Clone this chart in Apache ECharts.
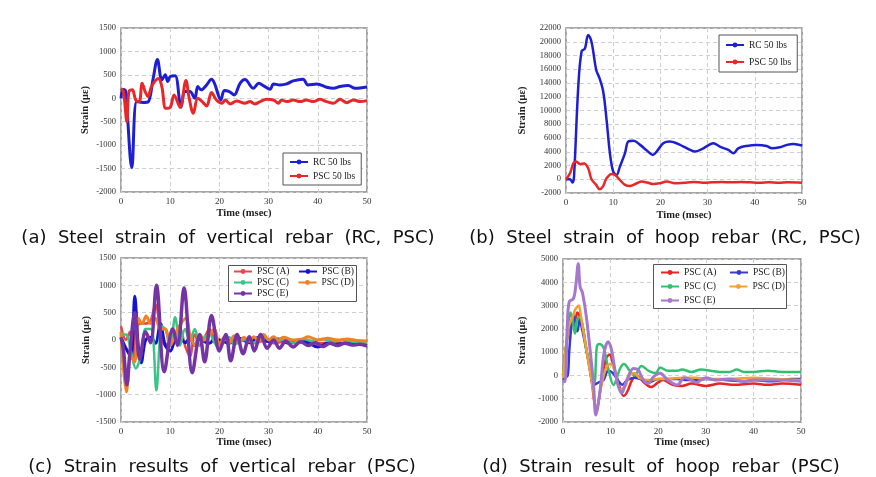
<!DOCTYPE html>
<html><head><meta charset="utf-8">
<script src="https://cdn.jsdelivr.net/npm/echarts@6/dist/echarts.min.js"></script>
<style>html,body{margin:0;padding:0;background:#fff}#c{width:876px;height:477px}</style>
</head><body><div id="c"></div>
<script>
// ---- data (time msec, strain) ----
const aRC = [[0,0],[0.4,190],[0.9,160],[2.2,-1480],[3.2,-70],[4.5,-90],[5.5,-80],[6.5,400],[7.4,830],[8.3,390],[9,500],[9.5,357],[10,464],[11,480],[12.2,-190],[13,143],[14,143],[15,0],[15.6,250],[16.3,180],[17.4,285],[18.4,407],[19,320],[20.3,-35],[21,164],[22,143],[23,70],[24.2,320],[25.2,400],[26.9,214],[28,320],[29,264],[30.3,193],[31,307],[32.3,286],[33.7,307],[35,371],[37,407],[38,286],[39.8,307],[41.8,236],[43.2,214],[44.5,250],[46.2,271],[47.6,214],[50,240]];
const aPSC = [[0,214],[0.5,143],[1.2,-500],[1.6,143],[2.3,180],[3,-36],[3.7,-70],[4.3,320],[4.9,143],[5.5,36],[6.2,250],[7.6,420],[8.3,250],[9.1,-214],[10,-193],[10.8,70],[12,-193],[13.2,380],[13.8,36],[14.7,-320],[15.6,0],[16.5,-70],[17.4,-164],[18.4,121],[19.4,-36],[20.5,-107],[21.2,-36],[22.2,-121],[23.5,-57],[25.2,-107],[26.2,-71],[27.2,-121],[28.3,-71],[29.6,-21],[31,-36],[32,-107],[32.6,-36],[33.7,-71],[35,-36],[36.4,-71],[37.7,-36],[39.1,-71],[40.4,-21],[41.8,-71],[43.2,-107],[44.5,-21],[45.9,-93],[47.2,-36],[48.6,-71],[50,-50]];
const bRC = [[0,0],[0.85,0],[1.4,-480],[1.7,400],[2.6,13500],[3.3,18600],[4,19000],[4.7,21000],[5.4,20000],[6.4,15900],[7.1,14700],[7.9,12700],[8.6,8600],[9.3,3800],[10,1100],[10.7,600],[11.4,1800],[12.5,3800],[13.2,5500],[14.3,5600],[15.7,5000],[17.1,4200],[18.4,3540],[19.2,4020],[20.6,5240],[22,5480],[23.4,5240],[24.9,4750],[26.3,4270],[27.3,4020],[29.1,4500],[31.2,5240],[32.6,4750],[34.4,4270],[35.5,3780],[36.5,4500],[38.3,4850],[40.4,5000],[42.5,4850],[43.6,4500],[45.3,4650],[46.8,5000],[48.2,5140],[50,4900]];
const bPSC = [[0,0],[0.85,870],[1.55,2300],[2.1,2570],[3,2230],[3.8,2300],[4.7,1600],[5.4,0],[6.4,-820],[7.1,-1450],[7.8,-1070],[8.6,150],[9.7,780],[10.4,630],[11.4,-100],[12.5,-820],[13.6,-970],[15,-580],[16,-340],[17.2,-480],[18.5,-700],[19.9,-580],[21.3,-340],[23.1,-580],[25,-500],[27,-400],[29,-500],[31,-450],[33,-400],[35,-450],[37,-400],[39,-450],[41,-500],[43,-450],[45,-500],[47,-450],[50,-500]];
const cA = [[0,250],[1,0],[1.8,150],[2.5,-400],[3,200],[4,300],[5,300],[6,350],[7,650],[8,200],[9,-100],[10,0],[11,100],[12,200],[13,-100],[14,-300],[15,100],[16,-100],[17,50],[18,200],[19,0],[20,-100],[21,50],[22,0],[23,-50],[25,0],[27,-60],[29,-20],[31,-60],[33,-30],[35,-60],[37,-40],[40,-60],[43,-40],[46,-60],[50,-50]];
const cB = [[0,50],[1,-150],[2,-300],[2.8,800],[3.5,-100],[4.1,-420],[5,0],[6,50],[7,-60],[8,300],[9,-100],[10,-200],[11,0],[12,50],[13,-50],[14,30],[15,-100],[16,50],[17,-30],[18,-60],[19,20],[20,0],[22,-60],[24,30],[26,-50],[28,50],[30,-30],[32,20],[34,-60],[36,0],[38,-50],[40,-130],[42,-60],[44,-80],[46,-50],[48,-70],[50,-80]];
const cC = [[0,100],[1,100],[2,-200],[3,-520],[4,-300],[5,200],[6,200],[6.5,100],[7.2,-920],[8.3,250],[9,200],[10,-100],[11,415],[12,-100],[13,200],[14,0],[15,200],[16,-100],[17,50],[18,100],[19,-50],[20,-150],[21,0],[22,50],[23,-80],[25,0],[27,-50],[29,50],[31,-30],[33,0],[35,-50],[37,20],[39,-20],[41,20],[43,-30],[45,0],[47,-30],[50,-50]];
const cD = [[0,150],[1.1,-950],[2,-300],[2.8,-400],[3.5,400],[4.3,300],[5.1,440],[6,300],[7,400],[8,200],[9,200],[10,-100],[11.5,200],[13.2,400],[14,100],[15,-100],[16,100],[17,0],[18,100],[19,200],[20,-100],[21,50],[22,-50],[23,80],[24,-50],[25,50],[26,-30],[27,60],[28,-20],[29,100],[30,0],[31,60],[32,0],[33,50],[35,0],[37,20],[38,60],[40,0],[42,30],[44,0],[46,20],[48,-10],[50,-20]];
const cE = [[0,50],[0.5,-180],[1.2,-820],[1.8,-240],[2.8,500],[3.8,-350],[5,150],[6,-50],[7.2,1000],[8.8,-580],[10.5,200],[11.5,-100],[12.8,950],[14.5,-600],[16,100],[17,-400],[18.4,450],[20,-200],[21.3,100],[22.3,-380],[23.6,100],[24.8,-250],[26.1,60],[27.1,-200],[28.4,100],[29.7,-150],[31,0],[32.2,-150],[33.5,-20],[35,-130],[36.5,-30],[38,-100],[39.5,-50],[41,-120],[42.5,-60],[44,-100],[45.5,-60],[47,-90],[48.5,-80],[50,-110]];
const dA = [[0,0],[0.8,1500],[1.5,2200],[2,2400],[2.5,2300],[3,2700],[4,2200],[5,1000],[6,-200],[7,-1500],[8,-400],[9,700],[9.8,900],[10.5,500],[11.5,-200],[12.7,-880],[13.5,-700],[14.5,-200],[15.5,0],[17,-300],[18.5,-500],[20,-300],[21,-200],[23,-400],[25,-450],[27,-350],[30,-450],[33,-350],[36,-400],[40,-350],[43,-400],[46,-350],[50,-400]];
const dB = [[0,-200],[0.5,-100],[1,0],[1.3,1000],[1.8,2200],[2.2,2600],[2.5,2000],[3,1900],[3.5,2400],[4,2000],[5.5,500],[6.5,-400],[7.5,-300],[8.5,-200],[9.5,200],[10.5,100],[11.5,-200],[12.5,-400],[13.5,-200],[15,-100],[17,-200],[18,-300],[20,-150],[22,-150],[24,-150],[26,-200],[28,-200],[30,-150],[34,-200],[38,-250],[40,-200],[44,-250],[48,-150],[50,-150]];
const dC = [[0,0],[0.8,1500],[1.6,2700],[2,2400],[2.5,1800],[3,2400],[3.5,2500],[5,1000],[6,0],[6.6,-300],[7.1,1230],[7.6,1350],[8.5,1200],[9.5,300],[10.6,-410],[12,300],[12.8,490],[14,200],[15,0],[16.5,400],[18,200],[19.5,100],[20.4,340],[22,200],[24,200],[25,250],[27,150],[29,250],[31,200],[33,150],[35,150],[36.5,250],[38,150],[40,150],[43,200],[46,150],[50,150]];
const dD = [[0,-100],[0.8,1500],[1.3,2150],[2,2500],[2.5,2800],[3,2950],[3.3,3000],[3.8,2500],[5,1000],[6,-200],[7.1,-1420],[8,-500],[9,300],[10,500],[11,100],[12,-600],[13,-500],[14,0],[15,100],[16,-100],[18,-200],[20,-150],[22,-150],[25,-100],[28,-100],[30,-150],[35,-150],[40,-100],[45,-150],[50,-200]];
const dE = [[0,-200],[0.4,-270],[0.9,2090],[1.3,3160],[2.2,3300],[2.7,3880],[3.2,4800],[3.6,3800],[4.1,3550],[5,2370],[6.4,-340],[6.9,-1700],[7.8,-630],[8.6,940],[9.5,1450],[10.2,1090],[11.3,-200],[12.3,-770],[13.4,-200],[14.8,300],[15.8,230],[16.9,-200],[17.9,-340],[19,-60],[20.4,90],[22,-200],[24,-410],[25.5,-100],[27,-200],[28,-300],[30,-100],[32,-200],[35,-150],[38,-250],[40,-200],[45,-200],[50,-250]];

const captions = ['(a) Steel strain of vertical rebar (RC, PSC)','(b) Steel strain of hoop rebar (RC, PSC)','(c) Strain results of vertical rebar (PSC)','(d) Strain result of hoop rebar (PSC)'];
const xName = 'Time (msec)';
const yName = 'Strain (\u03bc\u03b5)';
const yRanges = [[-2000,1500,500],[-2000,22000,2000],[-1500,1500,500],[-2000,5000,1000]];

const serif = 'Liberation Serif';
const grids = [
  {left:121, top:28, width:246, height:164},
  {left:566, top:28, width:236, height:165},
  {left:121, top:258, width:246, height:164},
  {left:563, top:259, width:238, height:163}
];
const nameGapsY = [30, 38, 29, 35];
const nameGapsX = [16, 17, 15, 15];

const xAxes = grids.map((g,i)=>({
  gridIndex:i, type:'value', min:0, max:50, interval:10,
  name:xName, nameLocation:'middle', nameGap:nameGapsX[i],
  nameTextStyle:{fontFamily:serif, fontWeight:'bold', fontSize:10.5, color:'#222'},
  axisLine:{show:false}, axisTick:{show:false},
  axisLabel:{fontFamily:serif, fontSize:9, color:'#333', margin:5, formatter: v => String(v)},
  splitLine:{show:true, lineStyle:{color:'#cfcfcf', type:[4,3], width:1}}
}));
const yAxes = grids.map((g,i)=>({
  gridIndex:i, type:'value', min:yRanges[i][0], max:yRanges[i][1], interval:yRanges[i][2],
  name:yName, nameLocation:'middle', nameGap:nameGapsY[i],
  nameTextStyle:{fontFamily:serif, fontWeight:'bold', fontSize:10.5, color:'#222'},
  axisLine:{show:false}, axisTick:{show:false},
  axisLabel:{fontFamily:serif, fontSize:8.5, color:'#333', margin:5, formatter: v => String(v)},
  splitLine:{show:true, lineStyle:{color:'#cfcfcf', type:[4,3], width:1}}
}));

function ser(name, data, i, color, w){
  return {name, type:'line', xAxisIndex:i, yAxisIndex:i, data, smooth:0.35,
    symbol:'circle', symbolSize:3, showSymbol:false, z:2,
    lineStyle:{color, width:w}, itemStyle:{color}};
}
const series = [
  ser('RC 50 lbs', aRC, 0, '#1e1ed2', 3),
  ser('PSC 50 lbs', aPSC, 0, '#e82828', 3),
  ser('RC 50 lbs ', bRC, 1, '#1e1ed2', 2.5),
  ser('PSC 50 lbs ', bPSC, 1, '#e82828', 2.5),
  ser('PSC (A)', cA, 2, '#e84848', 2.5),
  ser('PSC (B)', cB, 2, '#1414d0', 3),
  ser('PSC (C)', cC, 2, '#3cc488', 2.5),
  ser('PSC (D)', cD, 2, '#f08224', 3),
  ser('PSC (E)', cE, 2, '#7434a4', 3.5),
  ser('PSC (A) ', dA, 3, '#e82424', 2.5),
  ser('PSC (B) ', dB, 3, '#3a3ad0', 2.5),
  ser('PSC (C) ', dC, 3, '#30c070', 2.5),
  ser('PSC (D) ', dD, 3, '#f4a030', 2.5),
  ser('PSC (E) ', dE, 3, '#a478cc', 3)
];

const legBase = {
  itemWidth:18, itemHeight:6, itemGap:4, z:20,
  textStyle:{fontFamily:serif, fontSize:9.5, color:'#222'},
  formatter: n => n.trim(), selectedMode:false
};
function row(left, top, gap, data){
  return Object.assign({}, legBase, {orient:'horizontal', left, top, padding:0, itemGap:gap, data});
}
const legends = [
  Object.assign({}, legBase, {orient:'vertical', left:283, top:153, padding:[4,6,4,6], backgroundColor:'#fff', borderColor:'#555', borderWidth:1, data:['RC 50 lbs','PSC 50 lbs']}),
  Object.assign({}, legBase, {orient:'vertical', left:719, top:35, padding:[5,6,5,6], itemGap:7, backgroundColor:'#fff', borderColor:'#555', borderWidth:1, data:['RC 50 lbs ','PSC 50 lbs ']}),
  row(233, 266.5, 8.5, ['PSC (A)','PSC (B)']),
  row(233, 277.5, 8.5, ['PSC (C)','PSC (D)']),
  row(233, 288.5, 8.5, ['PSC (E)']),
  row(660, 267.5, 12.5, ['PSC (A) ','PSC (B) ']),
  row(660, 281.5, 12.5, ['PSC (C) ','PSC (D) ']),
  row(660, 295.5, 12.5, ['PSC (E) '])
];

const capPos = [[228,238],[665,238],[222,467],[661,467]];
const graphic = captions.map((t,i)=>({
  type:'text', x:capPos[i][0], y:capPos[i][1],
  style:{text:t.split(' ').join('  '), font:'18px "DejaVu Sans"', fill:'#111', textAlign:'center', textVerticalAlign:'middle'}
})).concat([
  {type:'rect', z:10, shape:{x:228.5, y:265.5, width:128, height:36}, style:{fill:'#fff', stroke:'#555', lineWidth:1}},
  {type:'rect', z:10, shape:{x:653.5, y:264.5, width:133, height:44}, style:{fill:'#fff', stroke:'#555', lineWidth:1}}
]);

const chart = echarts.init(document.getElementById('c'), null, {renderer:'canvas'});
chart.setOption({
  animation:false,
  grid: grids.map(g=>Object.assign({show:true, borderColor:'#8a8a8a', borderWidth:1.5, backgroundColor:'#fff'}, g)),
  xAxis:xAxes, yAxis:yAxes, series, legend:legends, graphic
});
</script></body></html>
